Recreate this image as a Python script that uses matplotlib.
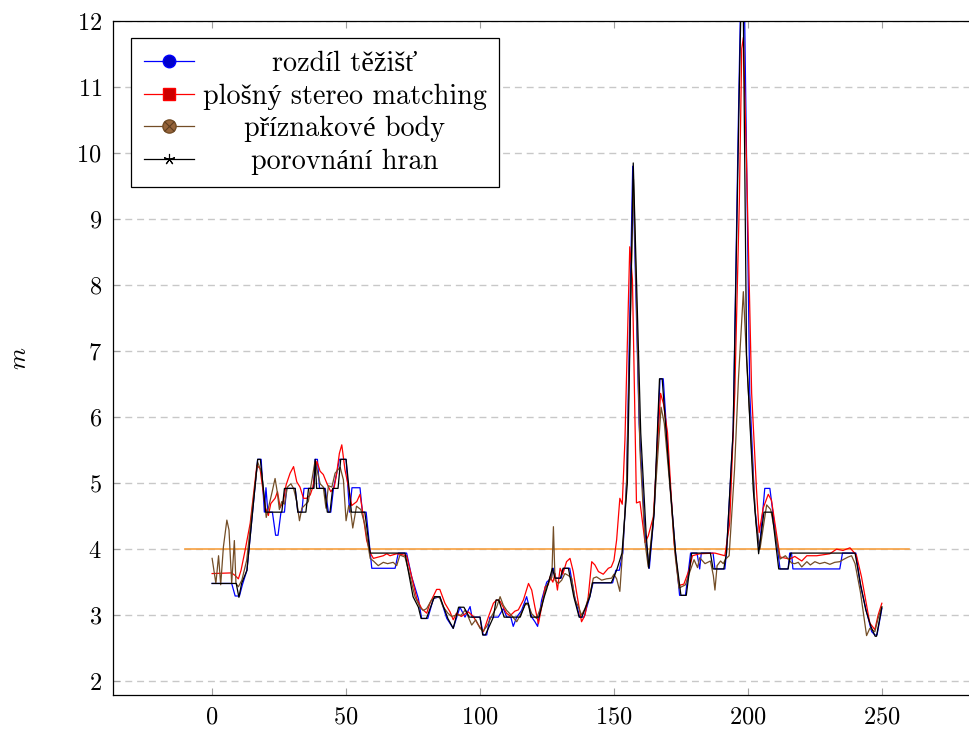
import matplotlib
matplotlib.use("Agg")
import matplotlib.pyplot as plt
from matplotlib.lines import Line2D
from matplotlib.legend_handler import HandlerTuple

plt.rcParams['font.family'] = ['cmr10', 'Liberation Serif']
plt.rcParams['mathtext.fontset'] = 'cm'
plt.rcParams['axes.formatter.use_mathtext'] = True

# rozdil tezist (blue)
x_tezist = [0, 7.3, 8.6, 10.2, 11.3, 13, 17, 18.3, 19.5, 20.1, 20.8, 22.5, 23.7, 24.6, 25.7, 27, 27.8, 31, 32, 33.5,
            34.3, 37.8, 38.4, 39.3, 40.1, 42.2, 43.4, 44.3, 45.3, 46.5, 47.5, 50, 51.3, 52.2, 55.2, 56.1, 57.5, 59.6, 68.3, 69.5,
            72.6, 74.5, 77, 78.2, 80.5, 82.6, 85, 87.6, 90, 92.5, 94.4, 96.3, 97, 100, 101.2, 102.5, 103.7, 106.8, 108.7, 110,
            111.5, 112.4, 113.7, 115.5, 117.4, 119.3, 120.5, 121.5, 123, 124.9, 126.5, 127.4, 128.3, 130.3, 131.3, 133.5, 135.3, 137.2, 138.8, 141,
            142.2, 149.5, 150.7, 152, 153.3, 154.7, 157, 159.4, 161.6, 163.2, 165, 167.2, 168.4, 171, 173, 174.5, 176.7, 178.6, 181, 182,
            182.6, 187, 187.7, 191.4, 192, 194.5, 196.4, 197.5, 198.5, 200.7, 202.6, 204.3, 206.3, 208.2, 212, 215, 215.6, 216.3, 216.8, 234.3,
            235.3, 240.3, 242, 244.3, 246.2, 247.4, 248.2, 250]
y_tezist = [3.48, 3.48, 3.29, 3.29, 3.46, 3.68, 5.36, 5.36, 4.56, 4.93, 4.56, 4.56, 4.21, 4.21, 4.56, 4.56, 4.92, 4.92, 4.56, 4.56,
            4.92, 4.92, 5.36, 5.36, 4.92, 4.92, 4.56, 4.56, 4.92, 5.15, 5.36, 5.36, 4.56, 4.93, 4.93, 4.56, 4.56, 3.71, 3.71, 3.94,
            3.94, 3.58, 3.25, 2.95, 2.95, 3.25, 3.28, 2.95, 2.8, 3.12, 2.97, 3.13, 2.97, 2.97, 2.7, 2.7, 2.97, 2.97, 3.1, 2.97,
            2.97, 2.83, 2.97, 3.07, 3.28, 2.97, 2.9, 2.83, 3.23, 3.5, 3.56, 3.71, 3.56, 3.56, 3.71, 3.71, 3.28, 2.97, 2.97, 3.28,
            3.49, 3.49, 3.68, 3.68, 3.94, 5.0, 9.8, 5.9, 4.24, 3.71, 4.55, 6.58, 6.58, 4.94, 3.94, 3.3, 3.3, 3.94, 3.94, 3.7,
            3.94, 3.94, 3.7, 3.7, 3.94, 5.78, 10.4, 12.8, 12.9, 6.36, 4.62, 4.0, 4.92, 4.92, 3.7, 3.7, 3.94, 3.94, 3.7, 3.7,
            3.94, 3.94, 3.45, 3.05, 2.75, 2.7, 2.7, 3.1]

# plosny stereo matching (red)
x_stereo = [0, 7.3, 8.6, 9.8, 10.8, 12.3, 14.2, 16.7, 17.9, 19.8, 21, 21.9, 23.5, 24.4, 25.4, 26.6, 27.6, 29.1, 30.4, 31.6,
            32.8, 34.1, 35.3, 36.6, 37.6, 39.1, 40.3, 41.5, 42.8, 44.3, 45.6, 46.5, 47.5, 48.4, 49.6, 50.9, 52.1, 54, 55.2, 56.2,
            57.7, 59.2, 60.2, 62, 63.9, 65.2, 66.4, 68.9, 70.5, 72.6, 74.5, 76.4, 78.2, 80.1, 81.3, 83.8, 85, 86.9, 88.8, 90,
            91.2, 93, 95.6, 97.5, 99.4, 101.3, 103.1, 105, 106.2, 107.5, 109.9, 111.2, 113, 114.3, 116.2, 118.1, 119.3, 120.5, 121.8, 123,
            124.3, 125.5, 126.1, 127.2, 128, 128.9, 129.9, 130.9, 132.3, 133.6, 134.8, 136.1, 137.9, 139.2, 140.4, 141.7, 142.9, 144.2, 146, 147.9,
            149, 150, 151, 152.2, 153.1, 154.1, 155.9, 156.9, 158.4, 159.7, 161.6, 162.8, 164.7, 167.4, 168.5, 170, 172.4, 174.3, 176.1, 178,
            179.3, 182, 187.7, 191.4, 193.2, 195.1, 196.8, 197.7, 198.3, 199.5, 201.4, 203.2, 204.2, 205.7, 207.6, 208.8, 212, 215.7, 217.5, 220.1,
            222, 225.7, 230.6, 233.1, 235.5, 238.1, 240.5, 242.4, 245.5, 247.4, 248.6, 250]
y_stereo = [3.63, 3.64, 3.6, 3.55, 3.68, 3.98, 4.39, 5.27, 5.22, 4.64, 4.51, 4.69, 4.77, 4.87, 4.63, 4.72, 4.97, 5.15, 5.25, 5.02,
            4.94, 4.77, 4.77, 4.82, 4.94, 5.33, 5.18, 5.13, 5.0, 4.87, 4.94, 5.15, 5.45, 5.58, 5.2, 4.94, 4.66, 4.72, 4.83, 4.56,
            4.13, 3.93, 3.86, 3.88, 3.9, 3.93, 3.9, 3.93, 3.92, 3.9, 3.58, 3.25, 3.1, 3.03, 3.18, 3.39, 3.39, 3.18, 3.05, 2.93,
            3.03, 2.98, 3.05, 2.98, 2.85, 2.75, 2.97, 3.18, 3.23, 3.21, 3.03, 2.99, 3.06, 3.08, 3.23, 3.48, 3.38, 3.12, 2.87, 3.12,
            3.43, 3.46, 3.58, 3.5, 3.63, 3.38, 3.71, 3.62, 3.81, 3.86, 3.66, 3.33, 2.9, 3.0, 3.28, 3.81, 3.76, 3.66, 3.62, 3.71,
            3.73, 3.83, 4.14, 4.77, 4.68, 5.65, 8.58, 8.08, 4.7, 4.72, 4.1, 4.2, 4.49, 6.36, 6.2, 5.76, 4.1, 3.45, 3.47, 3.68,
            3.9, 3.93, 3.94, 3.9, 4.39, 6.36, 9.26, 11.58, 11.75, 9.84, 6.36, 4.91, 4.25, 4.62, 4.83, 4.74, 3.88, 3.85, 3.89, 3.82,
            3.9, 3.9, 3.93, 4.0, 3.98, 4.02, 3.91, 3.58, 2.88, 2.78, 3.0, 3.18]

# priznakove body (brown)
x_body = [0, 1.4, 2.4, 3.2, 4.2, 5.5, 6.3, 7.3, 8.3, 8.9, 9.8, 11.1, 12.9, 14.8, 17, 18.5, 20.2, 21, 22.3, 23.5,
          24.3, 25.1, 26, 27, 28.1, 29.4, 30.4, 31.6, 32.6, 33.5, 35.9, 37, 38.4, 39.3, 40.3, 41.5, 42.5, 43.4, 44.7, 45.9,
          47.8, 49, 50, 51, 51.8, 52.5, 53.9, 55.5, 57, 59, 60.2, 62, 63.9, 65.5, 67.6, 68.9, 70.1, 72, 73.8, 75.7,
          77.6, 78.8, 80.1, 81.9, 83.8, 85, 86.2, 88, 89.4, 91, 93, 94.5, 96.9, 98.4, 100, 101.2, 102.5, 104.4, 106.2, 107.5,
          108.7, 110, 111.9, 113.7, 114.9, 117, 118.1, 119.3, 121.1, 123, 124.9, 126.1, 126.8, 127.4, 128, 129.3, 130.5, 131.7, 133, 134.2,
          135.5, 136.7, 137.9, 139.2, 141.1, 142.3, 143.5, 145.4, 147.2, 149.1, 150, 151, 152.2, 153.5, 154.7, 157.3, 159.7, 161.6, 162.8, 164.8,
          167.6, 168.8, 171, 173, 174.3, 176.7, 178, 179.9, 181.2, 182, 184, 186, 187.1, 187.7, 188.5, 189.8, 190.8, 191.7, 193, 195,
          196.5, 198.3, 199.6, 201.4, 203, 204.5, 207, 208.5, 212, 214, 216.3, 217.5, 218.8, 220.1, 222, 223.3, 225, 226.8, 228.7, 230.6,
          232.4, 234.3, 235.5, 237.4, 238.7, 240, 242, 244.3, 245.5, 247.4, 248.6, 250]
y_body = [3.86, 3.48, 3.9, 3.46, 4.03, 4.44, 4.29, 3.48, 4.13, 3.48, 3.43, 3.53, 3.83, 4.54, 5.32, 5.15, 4.48, 4.62, 4.85, 5.07,
          4.87, 4.6, 4.72, 4.68, 4.94, 4.99, 4.92, 4.72, 4.43, 4.62, 4.72, 4.99, 5.33, 5.18, 4.99, 4.94, 4.62, 4.96, 4.94, 5.15,
          5.24, 5.05, 4.43, 4.66, 4.55, 4.32, 4.65, 4.6, 4.37, 3.86, 3.82, 3.75, 3.8, 3.78, 3.8, 3.75, 3.91, 3.88, 3.6, 3.28,
          3.12, 3.07, 3.1, 3.23, 3.28, 3.26, 3.13, 3.03, 2.98, 3.0, 3.0, 3.08, 2.85, 2.93, 2.8, 2.76, 2.83, 2.99, 3.12, 3.28,
          3.15, 3.07, 2.99, 2.9, 2.99, 3.17, 3.15, 3.02, 2.95, 3.15, 3.45, 3.53, 3.57, 4.34, 3.53, 3.48, 3.53, 3.63, 3.6, 3.56,
          3.23, 3.13, 3.0, 3.1, 3.33, 3.56, 3.58, 3.53, 3.55, 3.56, 3.62, 3.55, 3.36, 4.14, 5.0, 9.6, 5.5, 4.1, 3.73, 4.5,
          6.15, 5.9, 4.9, 3.85, 3.41, 3.46, 3.62, 3.84, 3.72, 3.87, 3.78, 3.82, 3.6, 3.38, 3.75, 3.82, 3.78, 3.85, 3.9, 5.2,
          6.6, 7.9, 6.8, 5.5, 4.4, 4.0, 4.67, 4.6, 3.85, 3.9, 3.79, 3.78, 3.8, 3.73, 3.81, 3.76, 3.81, 3.78, 3.8, 3.77,
          3.8, 3.81, 3.84, 3.88, 3.9, 3.78, 3.35, 2.69, 2.8, 2.75, 2.95, 3.13]

# porovnani hran (black)
x_hrany = [0, 9, 10, 11, 13, 17, 18, 20, 26, 27, 31, 32, 35, 36, 38, 38.5, 39, 42, 43, 44,
           45, 47, 48, 50, 52, 57, 59, 72, 75, 77, 78, 80, 83, 85, 88, 90, 92, 94, 96, 100,
           101, 102, 105, 106, 107, 108, 109, 115, 117, 118, 119, 122, 124, 125, 127, 128, 130, 131, 133, 135,
           137, 138, 141, 142, 149, 151, 153, 155, 157.2, 160, 162, 163, 165, 167, 168, 171, 173, 175, 177, 179,
           186, 187, 191, 192, 194.5, 196.8, 198, 199.5, 202, 204, 206, 209, 211.5, 215, 216, 240, 242, 244, 246, 247.5,
           248, 250]
y_hrany = [3.48, 3.48, 3.27, 3.48, 3.68, 5.36, 5.36, 4.56, 4.56, 4.92, 4.92, 4.56, 4.56, 4.92, 4.92, 5.36, 4.92, 4.92, 4.56, 4.56,
           4.92, 4.92, 5.36, 5.36, 4.56, 4.56, 3.94, 3.94, 3.28, 3.12, 2.95, 2.95, 3.28, 3.28, 2.95, 2.8, 3.12, 3.12, 2.97, 2.97,
           2.7, 2.7, 2.97, 3.23, 3.23, 3.1, 2.97, 2.97, 3.18, 3.18, 2.97, 2.97, 3.28, 3.41, 3.71, 3.56, 3.56, 3.71, 3.71, 3.28,
           2.97, 2.97, 3.28, 3.49, 3.49, 3.68, 3.94, 5.0, 9.85, 5.76, 4.24, 3.71, 4.55, 6.58, 6.58, 4.94, 3.94, 3.3, 3.3, 3.94,
           3.94, 3.7, 3.7, 3.94, 5.8, 11.0, 13.4, 6.94, 4.9, 3.93, 4.56, 4.56, 3.7, 3.7, 3.94, 3.94, 3.48, 3.08, 2.82, 2.68,
           2.68, 3.12]

labels = ['rozdíl těžišť', 'plošný stereo matching', 'příznakové body', 'porovnání hran']
threshold = 4.0
threshold_x = [-10, 260]

c_blue = '#0000ff'
c_red = '#ff0000'
c_brown = '#734d26'
c_black = '#000000'

fig = plt.figure(figsize=(9.7, 7.29), dpi=100)
ax = fig.add_axes([0.1165, 0.0466, 0.8948, 0.9246])

ax.grid(axis='y', color='#c8c8c8', linestyle=(0, (5, 3.5)), linewidth=1.0)
ax.set_axisbelow(True)

ax.plot(threshold_x, [threshold, threshold], color='#f7a040', lw=1.2)
lw = 0.9
ax.plot(x_tezist, y_tezist, color=c_blue, lw=lw)
ax.plot(x_stereo, y_stereo, color=c_red, lw=lw)
ax.plot(x_body, y_body, color=c_brown, lw=lw)
ax.plot(x_hrany, y_hrany, color=c_black, lw=lw)

ax.set_xlim(-37, 287)
ax.set_ylim(1.79, 12)
ax.set_xticks([0, 50, 100, 150, 200, 250])
ax.set_yticks(range(2, 13))
ax.tick_params(direction='in', top=True, right=True, length=5, width=0.8,
               color='#a0a0a0', labelsize=17.5, pad=8)
for s in ax.spines.values():
    s.set_linewidth(0.9)
ax.set_ylabel('$m$', fontsize=18, labelpad=33)

h_blue = Line2D([], [], color=c_blue, lw=lw, marker='o', ms=9, mfc='#0000cc', mec=c_blue)
h_red = Line2D([], [], color=c_red, lw=lw, marker='s', ms=8.5, mfc='#cc0000', mec=c_red)
h_brown = (Line2D([], [], color=c_brown, lw=lw, marker='o', ms=9.5, mfc='#96643a', mec=c_brown),
           Line2D([], [], ls='none', marker='x', ms=7, mec='#5c3d1f', mew=0.8))
h_black = Line2D([], [], color=c_black, lw=lw, marker=(5, 2, 0), ms=8, mec=c_black, mew=0.8)

leg = ax.legend([h_blue, h_red, h_brown, h_black], labels,
                handler_map={tuple: HandlerTuple(ndivide=1)},
                loc='upper left', bbox_to_anchor=(0.0207, 0.9748), borderaxespad=0,
                fontsize=20.3, fancybox=False, framealpha=1, edgecolor='black',
                handlelength=1.8, handletextpad=0.3, labelspacing=0.22,
                borderpad=0.45)
leg.get_frame().set_linewidth(0.9)

# centre the legend texts like pgfplots does
fig.canvas.draw()
r = fig.canvas.get_renderer()
texts = leg.get_texts()
widths = [t.get_window_extent(r).width for t in texts]
wmax = max(widths)
for t, w in zip(texts, widths):
    t.set_position(((wmax - w) / 2, 0))

fig.savefig('out.png', dpi=100)
